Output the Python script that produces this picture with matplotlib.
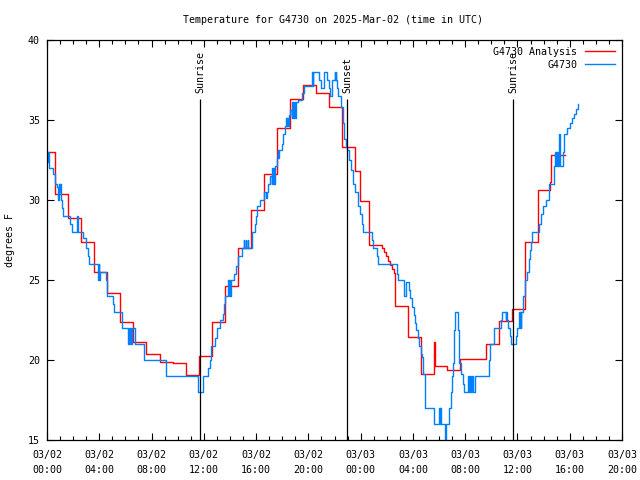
import numpy as np
import matplotlib
matplotlib.use('Agg')
from matplotlib import pyplot as plt
from matplotlib.ticker import MultipleLocator

plt.rcParams['font.family'] = ['DejaVu Sans Mono']
plt.rcParams['font.size'] = 7.2

# times are hours since 2025-03-02 00:00 UTC, values in degrees F (step data)
analysis_t = [0.00, 0.58, 0.64, 1.61, 2.61, 3.61, 4.61, 5.61, 6.61, 7.61, 8.61, 9.61,
              10.61, 11.61, 12.61, 13.61, 14.61, 15.61, 16.61, 17.61, 18.61, 19.61,
              20.61, 21.61, 22.61, 23.58, 23.98, 24.61, 25.65, 25.80, 25.95, 26.10,
              26.25, 26.40, 26.55, 26.61, 27.61, 28.61, 29.61, 29.66, 30.61, 31.61,
              33.61, 34.61, 35.61, 36.61, 37.61, 38.50, 38.58, 39.61]
analysis_v = [33.0, 31.7, 30.4, 28.9, 27.4, 25.5, 24.2, 22.4, 21.1, 20.35, 19.85, 19.8,
              19.05, 20.25, 22.4, 24.65, 27.0, 29.4, 31.65, 34.5, 36.3, 37.2,
              36.7, 35.8, 33.3, 31.8, 29.95, 27.2, 27.0, 26.75, 26.5, 26.2,
              25.95, 25.7, 25.45, 23.35, 21.45, 19.1, 21.1, 19.6, 19.4, 20.05,
              21.0, 22.45, 23.2, 27.35, 30.6, 31.1, 32.8, 32.8]

obs_t = [0.00, 0.08, 0.12, 0.15, 0.18, 0.48, 0.61, 0.74, 0.87, 0.92, 0.96, 1.00, 1.04,
         1.12, 1.25, 1.76, 1.90, 2.27, 2.31, 2.33, 2.35, 2.73, 2.96, 3.16, 3.24, 3.90,
         3.95, 4.00, 4.06, 4.49, 4.57, 5.03, 5.13, 5.72, 5.76, 6.22, 6.28, 6.34, 6.40,
         6.46, 6.52, 6.73, 7.40, 7.45, 9.08, 11.53, 11.58, 11.91, 12.34, 12.48, 12.55,
         12.86, 12.99, 13.24, 13.49, 13.57, 13.65, 13.85, 13.90, 13.95, 14.00, 14.05,
         14.33, 14.45, 14.65, 14.90, 15.05, 15.10, 15.20, 15.25, 15.35, 15.40, 15.66,
         15.92, 16.00, 16.05, 16.30, 16.58, 16.78, 16.83, 16.88, 17.03, 17.20, 17.25,
         17.30, 17.35, 17.40, 17.45, 17.60, 17.65, 17.68, 17.75, 17.96, 18.05, 18.21,
         18.30, 18.35, 18.40, 18.45, 18.50, 18.60, 18.72, 18.78, 18.85, 18.92, 19.00,
         19.08, 19.23, 19.49, 19.67, 20.30, 20.33, 20.36, 20.84, 20.97, 21.20, 21.40,
         21.55, 21.65, 21.79, 22.00, 22.04, 22.08, 22.12, 22.17, 22.29, 22.50, 22.63,
         22.72, 22.88, 22.93, 23.13, 23.26, 23.40, 23.57, 23.82, 23.95, 24.09, 24.21,
         24.89, 24.97, 25.23, 25.35, 26.81, 26.88, 27.34, 27.45, 27.70, 27.78, 27.93,
         28.05, 28.15, 28.25, 28.37, 28.47, 28.62, 28.70, 28.78, 28.92, 29.58, 30.02,
         30.06, 30.09, 30.13, 30.44, 30.48, 30.55, 30.75, 30.90, 30.99, 31.06, 31.11,
         31.16, 31.20, 31.42, 31.49, 31.55, 31.65, 31.80, 31.89, 32.24, 32.30, 32.36,
         32.42, 32.50, 32.56, 32.75, 33.82, 33.88, 34.20, 34.75, 34.85, 35.10, 35.15,
         35.20, 35.28, 35.45, 35.52, 35.90, 35.97, 36.12, 36.16, 36.20, 36.24, 36.28,
         36.42, 36.57, 36.72, 36.85, 36.93, 37.00, 37.12, 37.62, 37.80, 37.95, 38.15,
         38.45, 38.78, 38.88, 38.93, 38.98, 39.03, 39.08, 39.13, 39.18, 39.22, 39.45,
         39.58, 39.80, 40.00, 40.15, 40.30, 40.45, 40.60, 40.66]
obs_v = [32.4, 33.0, 32.4, 33.0, 32.0, 31.6, 31.0, 30.8, 30.0, 31.0, 30.5, 31.0, 30.0,
         29.5, 29.0, 28.5, 28.0, 29.0, 28.0, 29.0, 28.0, 27.6, 27.0, 26.5, 26.0, 25.0,
         26.0, 25.0, 25.5, 25.0, 24.0, 23.5, 23.0, 22.5, 22.0, 21.0, 22.0, 21.0, 22.0,
         21.0, 22.0, 21.0, 20.5, 20.0, 19.0, 18.5, 18.0, 19.0, 19.5, 20.0, 20.9,
         21.4, 22.0, 22.5, 22.9, 23.5, 24.0, 25.0, 24.0, 25.0, 24.0, 25.0,
         25.4, 25.9, 26.5, 27.0, 27.5, 27.0, 27.5, 27.0, 27.5, 27.0, 28.0,
         28.5, 29.0, 29.6, 30.0, 30.5, 30.1, 30.5, 31.0, 31.5, 31.0, 32.0,
         31.0, 32.0, 31.0, 32.1, 32.6, 33.1, 32.6, 33.1, 33.5, 34.1, 34.6,
         35.1, 34.6, 35.1, 34.6, 35.3, 35.6, 35.1, 36.1, 35.1, 36.1, 35.1,
         36.1, 36.25, 36.7, 37.1, 38.0, 37.1, 38.0, 37.5, 37.0, 38.0, 37.5,
         37.0, 36.5, 37.5, 38.0, 37.5, 38.0, 37.5, 37.0, 36.5, 35.8, 34.8,
         33.8, 33.3, 33.1, 32.5, 31.9, 31.0, 30.5, 29.6, 29.1, 28.5, 28.0,
         27.5, 27.0, 26.5, 26.0, 25.4, 25.0, 24.0, 24.9, 24.4, 23.9, 23.3,
         22.8, 22.3, 21.9, 21.4, 20.9, 20.4, 20.2, 19.1, 17.0, 16.0, 17.0,
         16.0, 17.0, 16.0, 15.5, 15.0, 16.0, 17.0, 18.0, 19.0, 19.8, 20.8,
         21.9, 23.0, 21.9, 20.8, 19.8, 19.1, 18.5, 18.0, 19.0, 18.0, 19.0,
         18.0, 19.0, 18.0, 19.0, 20.0, 21.0, 22.0, 22.5, 23.0, 22.5, 23.0,
         22.5, 22.0, 21.5, 21.0, 21.5, 22.0, 23.0, 22.0, 23.0, 22.0, 23.0,
         24.0, 25.0, 25.5, 26.3, 26.9, 27.4, 28.0, 28.5, 29.1, 29.6, 30.0,
         31.0, 32.1, 33.0, 32.1, 33.0, 32.1, 33.0, 32.1, 34.1, 32.1, 33.0,
         34.1, 34.5, 34.8, 35.1, 35.4, 35.7, 36.0, 36.0]

sun_t = [11.73, 22.98, 35.68]
sun_labels = ['Sunrise', 'Sunset', 'Sunrise']

tick_hours = list(range(0, 45, 4))
tick_labels = ['03/02\n00:00', '03/02\n04:00', '03/02\n08:00', '03/02\n12:00',
               '03/02\n16:00', '03/02\n20:00', '03/03\n00:00', '03/03\n04:00',
               '03/03\n08:00', '03/03\n12:00', '03/03\n16:00', '03/03\n20:00']

fig = plt.figure(figsize=(6.4, 4.8), dpi=100)
ax = fig.add_axes([47/640, 40/480, 575/640, 400/480])

ax.plot(analysis_t, analysis_v, drawstyle='steps-post', color='#ff0000', lw=1.0,
        label='G4730 Analysis')
ax.plot(obs_t, obs_v, drawstyle='steps-post', color='#0080ff', lw=1.0, label='G4730')

line_top = 36.3
for t, lbl in zip(sun_t, sun_labels):
    ax.vlines(t, 15, line_top, color='black', lw=0.9, zorder=5)
    ax.text(t, line_top + 0.4, lbl, rotation=90, ha='center', va='bottom')

ax.set_xlim(0, 44)
ax.set_ylim(15, 40)
ax.set_xticks(tick_hours)
ax.set_xticklabels(tick_labels, linespacing=1.65)
ax.xaxis.set_minor_locator(MultipleLocator(1))
ax.set_yticks(range(15, 41, 5))
ax.tick_params(which='both', direction='in', top=True, right=True, width=0.8)
ax.tick_params(which='major', length=5)
ax.tick_params(which='minor', length=3)
ax.tick_params(axis='x', pad=7)
ax.tick_params(axis='y', pad=5)
for s in ax.spines.values():
    s.set_linewidth(0.9)

ax.legend(loc='upper right', frameon=False, markerfirst=False, handlelength=3,
          borderaxespad=0.3, labelspacing=0.3)

fig.text(333/640, 1 - 20/480, 'Temperature for G4730 on 2025-Mar-02 (time in UTC)',
         ha='center', va='center')
fig.text(10/640, 0.5, 'degrees F', rotation=90, ha='center', va='center')

fig.savefig('out.png', dpi=100)
